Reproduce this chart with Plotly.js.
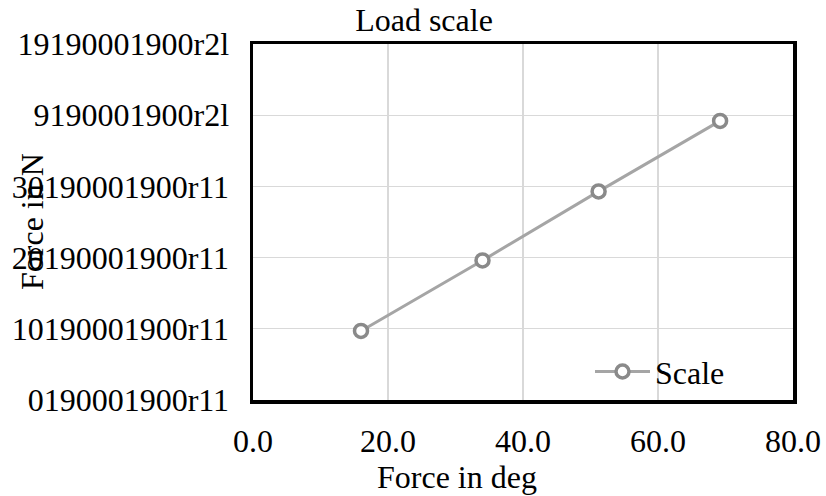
<!DOCTYPE html>
<html>
<head>
<meta charset="utf-8">
<script src="https://cdn.plot.ly/plotly-3.0.1.min.js"></script>
<style>html,body{margin:0;padding:0;background:#fff;}#chart{width:826px;height:496px;}</style>
</head>
<body>
<div id="chart"></div>
<script>
// Data
const seriesName = 'Scale';
const xValues = [16.0, 34.0, 51.2, 69.2];
const yValues = [0.97, 1.96, 2.93, 3.92];
const xTickVals = [0, 20, 40, 60, 80];
const xTickText = ['0.0', '20.0', '40.0', '60.0', '80.0'];
const yTickVals = [0, 1, 2, 3, 4, 5];
const yTickText = ['0190001900r11', '10190001900r11', '20190001900r11', '30190001900r11', '9190001900r2l', '19190001900r2l'];
const chartTitle = 'Load scale';
const xTitle = 'Force in deg';
const yTitle = 'Force in N';

const FONT = 'Liberation Serif, Times New Roman, serif';
const FS = 32;

const trace = {
  x: xValues, y: yValues, name: seriesName, type: 'scatter', mode: 'lines+markers',
  line: {color: '#a5a5a5', width: 3},
  marker: {symbol: 'circle', size: 13, color: '#ffffff', line: {color: '#8a8a8a', width: 3.5}},
  showlegend: true
};

const layout = {
  width: 826, height: 496,
  margin: {l: 253, r: 33, t: 44, b: 96, pad: 0},
  paper_bgcolor: '#ffffff', plot_bgcolor: '#ffffff',
  font: {family: FONT, size: FS, color: '#000000'},
  title: {text: chartTitle, font: {family: FONT, size: FS, color: '#000'},
          x: 424/826, xref: 'container', xanchor: 'center', y: 0.961, yref: 'container', yanchor: 'middle'},
  xaxis: {range: [0, 80], tickvals: xTickVals, ticktext: xTickText, showgrid: true, gridcolor: '#d9d9d9', gridwidth: 1.2,
          zeroline: false, showline: true, mirror: true, linecolor: '#000', linewidth: 3.5, ticks: '',
          ticklabelstandoff: 10, tickfont: {family: FONT, size: FS, color: '#000'}, fixedrange: true},
  yaxis: {range: [0, 5], tickvals: yTickVals, ticktext: yTickText, showgrid: true, gridcolor: '#d9d9d9', gridwidth: 1.2,
          zeroline: false, showline: true, mirror: true, linecolor: '#000', linewidth: 3.5, ticks: '',
          ticklabelstandoff: 14, tickfont: {family: FONT, size: FS, color: '#000'}, fixedrange: true},
  showlegend: true,
  legend: {x: (590-253)/540, xanchor: 'left', y: (400-371.7)/356, yanchor: 'middle', bgcolor: 'rgba(0,0,0,0)',
           borderwidth: 0, font: {family: FONT, size: FS, color: '#000'}, itemwidth: 55},
  annotations: [
    {text: xTitle, xref: 'paper', yref: 'paper', x: (457-253)/540, y: (400-476.5)/356, xanchor: 'center', yanchor: 'middle',
     showarrow: false, font: {family: FONT, size: FS, color: '#000'}},
    {text: yTitle, xref: 'paper', yref: 'paper', x: (32-253)/540, y: 0.5, xanchor: 'center', yanchor: 'middle',
     textangle: -90, showarrow: false, font: {family: FONT, size: FS, color: '#000'}}
  ]
};

Plotly.newPlot('chart', [trace], layout, {staticPlot: true, displayModeBar: false});
</script>
</body>
</html>
